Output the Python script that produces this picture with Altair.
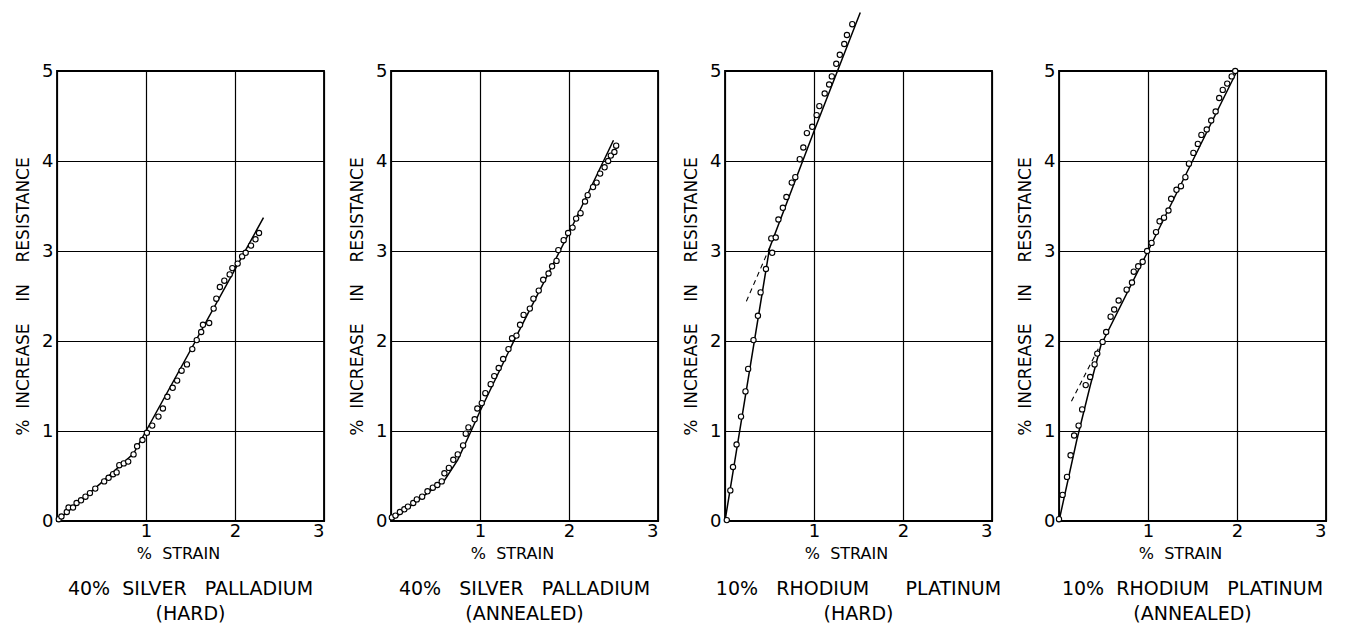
import altair as alt
import pandas as pd

FONT = "DejaVu Sans"
NB = "\u00a0"

# ---------------- Panel 1: 40% Silver Palladium (hard) ----------------
p1_pts_x = [0.02, 0.05, 0.11, 0.13, 0.18, 0.22, 0.27, 0.32, 0.37, 0.43, 0.53, 0.58, 0.63, 0.67, 0.70,
            0.75, 0.80, 0.86, 0.90, 0.96, 1.01, 1.07, 1.14, 1.19, 1.24, 1.30, 1.35, 1.40, 1.46, 1.52,
            1.57, 1.62, 1.64, 1.71, 1.76, 1.79, 1.83, 1.88, 1.94, 1.97, 2.03, 2.08, 2.12, 2.18, 2.23, 2.27]
p1_pts_y = [0.02, 0.05, 0.10, 0.15, 0.15, 0.20, 0.23, 0.27, 0.31, 0.36, 0.44, 0.48, 0.52, 0.54, 0.62,
            0.64, 0.66, 0.74, 0.83, 0.90, 0.98, 1.06, 1.16, 1.25, 1.38, 1.48, 1.56, 1.67, 1.74, 1.91,
            2.01, 2.10, 2.18, 2.20, 2.36, 2.47, 2.60, 2.67, 2.74, 2.81, 2.86, 2.94, 2.98, 3.06, 3.13, 3.20]
p1_line_x = [0.0, 0.48, 0.86, 1.0, 2.32]
p1_line_y = [0.0, 0.41, 0.75, 1.0, 3.37]

# ---------------- Panel 2: 40% Silver Palladium (annealed) ----------------
p2_pts_x = [0.01, 0.05, 0.10, 0.15, 0.19, 0.25, 0.29, 0.35, 0.41, 0.47, 0.52, 0.57, 0.60, 0.65, 0.70,
            0.75, 0.81, 0.84, 0.87, 0.94, 0.97, 1.02, 1.06, 1.12, 1.16, 1.21, 1.26, 1.32, 1.36, 1.41,
            1.45, 1.49, 1.56, 1.60, 1.66, 1.71, 1.77, 1.81, 1.86, 1.88, 1.94, 1.99, 2.04, 2.08, 2.13,
            2.18, 2.21, 2.27, 2.31, 2.35, 2.40, 2.44, 2.47, 2.51, 2.53]
p2_pts_y = [0.04, 0.06, 0.10, 0.13, 0.16, 0.20, 0.24, 0.27, 0.33, 0.37, 0.40, 0.44, 0.53, 0.59, 0.68,
            0.74, 0.84, 0.97, 1.04, 1.13, 1.25, 1.31, 1.42, 1.52, 1.61, 1.70, 1.80, 1.91, 2.03, 2.06,
            2.18, 2.29, 2.36, 2.47, 2.56, 2.68, 2.75, 2.83, 2.89, 3.01, 3.12, 3.20, 3.26, 3.36, 3.42,
            3.55, 3.62, 3.71, 3.76, 3.86, 3.93, 4.00, 4.06, 4.10, 4.17]
p2_line_x = [0.0, 0.3, 0.6, 0.75, 0.9, 1.0, 1.37, 2.0, 2.5]
p2_line_y = [0.0, 0.23, 0.45, 0.68, 1.0, 1.22, 1.98, 3.2, 4.23]

# ---------------- Panel 3: 10% Rhodium Platinum (hard) ----------------
p3_pts_x = [0.02, 0.06, 0.09, 0.13, 0.18, 0.23, 0.26, 0.32, 0.37, 0.40, 0.46, 0.53, 0.52, 0.57, 0.60,
            0.65, 0.69, 0.75, 0.79, 0.84, 0.88, 0.92, 0.98, 1.03, 1.06, 1.12, 1.17, 1.20, 1.25, 1.29,
            1.34, 1.37, 1.43]
p3_pts_y = [0.01, 0.34, 0.60, 0.85, 1.16, 1.44, 1.69, 2.01, 2.28, 2.54, 2.80, 2.98, 3.14, 3.15, 3.35,
            3.48, 3.60, 3.76, 3.82, 4.02, 4.15, 4.31, 4.38, 4.51, 4.61, 4.75, 4.85, 4.94, 5.08, 5.18,
            5.30, 5.40, 5.52]
p3_line_x = [0.0, 0.5, 1.0, 1.52]
p3_line_y = [0.0, 3.03, 4.33, 5.65]
p3_dash_x = [0.24, 0.52]
p3_dash_y = [2.44, 3.08]

# ---------------- Panel 4: 10% Rhodium Platinum (annealed) ----------------
p4_pts_x = [0.00, 0.04, 0.09, 0.13, 0.17, 0.22, 0.26, 0.30, 0.35, 0.40, 0.43, 0.49, 0.53, 0.58, 0.62,
            0.67, 0.76, 0.82, 0.84, 0.89, 0.94, 0.99, 1.04, 1.09, 1.13, 1.18, 1.23, 1.26, 1.32, 1.37,
            1.42, 1.46, 1.51, 1.56, 1.60, 1.66, 1.71, 1.76, 1.80, 1.84, 1.89, 1.94, 1.98]
p4_pts_y = [0.02, 0.29, 0.49, 0.73, 0.95, 1.06, 1.24, 1.51, 1.60, 1.74, 1.86, 1.99, 2.10, 2.27, 2.35,
            2.45, 2.57, 2.65, 2.77, 2.83, 2.88, 3.00, 3.09, 3.21, 3.33, 3.37, 3.45, 3.58, 3.68, 3.72,
            3.82, 3.97, 4.09, 4.19, 4.29, 4.35, 4.45, 4.55, 4.70, 4.79, 4.86, 4.94, 5.00]
p4_line_x = [0.0, 0.2, 0.35, 0.47, 1.0, 2.0]
p4_line_y = [0.0, 0.9, 1.5, 1.95, 3.0, 5.0]
p4_dash_x = [0.14, 0.45]
p4_dash_y = [1.33, 1.93]

titles = [
    ["40%  SILVER   PALLADIUM", "(HARD)"],
    ["40%   SILVER   PALLADIUM", "(ANNEALED)"],
    ["10%   RHODIUM      PLATINUM", "(HARD)"],
    ["10%  RHODIUM   PLATINUM", "(ANNEALED)"],
]
x_title = "%  STRAIN"
y_title = "%  INCREASE    IN    RESISTANCE"

x_ticks = [0, 1, 2, 3]
y_ticks = [0, 1, 2, 3, 4, 5]


def nb(s):
    return s.replace(" ", NB)


def panel(px, py, lx, ly, dx, dy, title):
    xenc = alt.X("x:Q", scale=alt.Scale(domain=[0, 3], nice=False, zero=True),
                 axis=alt.Axis(values=x_ticks, title=nb(x_title), titleFontSize=16,
                               labelPadding=1, titlePadding=5, titleX=121,
                               labelExpr="datum.value == 0 ? '' : datum.label"))
    yenc = alt.Y("y:Q", scale=alt.Scale(domain=[0, 5], nice=False, zero=True),
                 axis=alt.Axis(values=y_ticks, title=nb(y_title), titleFontSize=17,
                               labelPadding=4, titlePadding=9))
    pts = alt.Chart(pd.DataFrame({"x": px, "y": py})).mark_circle(
        size=28, fill="white", stroke="black", strokeWidth=1.1, opacity=1
    ).encode(x=xenc, y=yenc)
    line = alt.Chart(pd.DataFrame({"x": lx, "y": ly})).mark_line(
        color="black", strokeWidth=1.5
    ).encode(x=xenc, y=yenc)
    layers = [line]
    if dx is not None:
        dash = alt.Chart(pd.DataFrame({"x": dx, "y": dy})).mark_line(
            color="black", strokeWidth=1.1, strokeDash=[5, 4]
        ).encode(x=xenc, y=yenc)
        layers.append(dash)
    layers.append(pts)
    return alt.layer(*layers).properties(
        width=267, height=450,
        title=alt.TitleParams(text=[nb(t) for t in title], orient="bottom", anchor="middle",
                              fontSize=19, font=FONT, fontWeight="normal", color="black",
                              offset=19, lineHeight=25),
    )


chart = alt.hconcat(
    panel(p1_pts_x, p1_pts_y, p1_line_x, p1_line_y, None, None, titles[0]),
    panel(p2_pts_x, p2_pts_y, p2_line_x, p2_line_y, None, None, titles[1]),
    panel(p3_pts_x, p3_pts_y, p3_line_x, p3_line_y, p3_dash_x, p3_dash_y, titles[2]),
    panel(p4_pts_x, p4_pts_y, p4_line_x, p4_line_y, p4_dash_x, p4_dash_y, titles[3]),
    spacing=67, bounds="flush",
).properties(
    padding={"left": 5, "top": 0, "right": 5, "bottom": 5}
).configure_view(
    stroke="black", strokeWidth=1.8
).configure_axis(
    grid=True, gridColor="black", gridWidth=1.2, gridOpacity=1,
    domain=False, ticks=False,
    labelFont=FONT, labelFontSize=18, labelColor="black",
    titleFont=FONT, titleFontWeight="normal", titleColor="black",
)

chart.save("out.html", embed_options={"renderer": "svg", "actions": False})
